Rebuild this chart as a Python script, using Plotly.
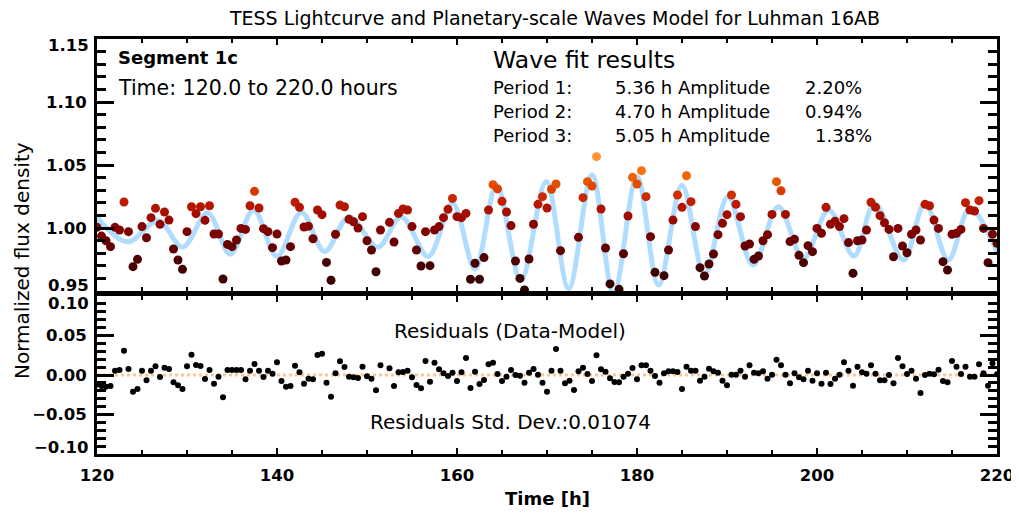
import numpy as np
import plotly.graph_objects as go

# ---------------- data ----------------
time_h = [
    120.0, 120.5, 121.0, 121.5, 122.0, 122.5, 123.0, 123.5, 124.0, 124.5,
    125.0, 125.5, 126.0, 126.5, 127.0, 127.5, 128.0, 128.5, 129.0, 129.5,
    130.0, 130.5, 131.0, 131.5, 132.0, 132.5, 133.0, 133.5, 134.0, 134.5,
    135.0, 135.5, 136.0, 136.5, 137.0, 137.5, 138.0, 138.5, 139.0, 139.5,
    140.0, 140.5, 141.0, 141.5, 142.0, 142.5, 143.0, 143.5, 144.0, 144.5,
    145.0, 145.5, 146.0, 146.5, 147.0, 147.5, 148.0, 148.5, 149.0, 149.5,
    150.0, 150.5, 151.0, 151.5, 152.0, 152.5, 153.0, 153.5, 154.0, 154.5,
    155.0, 155.5, 156.0, 156.5, 157.0, 157.5, 158.0, 158.5, 159.0, 159.5,
    160.0, 160.5, 161.0, 161.5, 162.0, 162.5, 163.0, 163.5, 164.0, 164.5,
    165.0, 165.5, 166.0, 166.5, 167.0, 167.5, 168.0, 168.5, 169.0, 169.5,
    170.0, 170.5, 171.0, 171.5, 172.0, 172.5, 173.0, 173.5, 174.0, 174.5,
    175.0, 175.5, 176.0, 176.5, 177.0, 177.5, 178.0, 178.5, 179.0, 179.5,
    180.0, 180.5, 181.0, 181.5, 182.0, 182.5, 183.0, 183.5, 184.0, 184.5,
    185.0, 185.5, 186.0, 186.5, 187.0, 187.5, 188.0, 188.5, 189.0, 189.5,
    190.0, 190.5, 191.0, 191.5, 192.0, 192.5, 193.0, 193.5, 194.0, 194.5,
    195.0, 195.5, 196.0, 196.5, 197.0, 197.5, 198.0, 198.5, 199.0, 199.5,
    200.0, 200.5, 201.0, 201.5, 202.0, 202.5, 203.0, 203.5, 204.0, 204.5,
    205.0, 205.5, 206.0, 206.5, 207.0, 207.5, 208.0, 208.5, 209.0, 209.5,
    210.0, 210.5, 211.0, 211.5, 212.0, 212.5, 213.0, 213.5, 214.0, 214.5,
    215.0, 215.5, 216.0, 216.5, 217.0, 217.5, 218.0, 218.5, 219.0, 219.5,
    220.0,
]

flux = [
    1.0005, 0.9936, 0.9899, 0.9852, 1.0005, 0.9984, 1.0206, 0.9971, 0.9693, 0.9751,
    1.0011, 0.9923, 1.0082, 1.0156, 1.0029, 1.0127, 1.0063, 0.9833, 0.9746, 0.9672,
    0.9971, 1.0169, 1.0114, 1.0169, 1.0061, 1.0177, 0.9952, 0.9952, 0.9595, 0.9870,
    0.9852, 0.9905, 0.9997, 0.9989, 1.0177, 1.0291, 1.0159, 0.9995, 0.9971, 0.9844,
    0.9952, 0.9738, 0.9746, 0.9852, 1.0204, 1.0164, 1.0008, 1.0013, 0.9915, 1.0143,
    1.0106, 0.9727, 0.9585, 0.9950, 1.0182, 1.0169, 1.0069, 1.0050, 1.0000, 1.0090,
    0.9899, 0.9825, 0.9653, 0.9984, None, 1.0045, 0.9889, 1.0116, 1.0151, 1.0143,
    1.0011, 0.9825, 0.9698, 0.9971, 0.9701, 0.9984, 1.0011, 1.0082, 1.0148, 1.0235,
    1.0090, 1.0082, 1.0116, 0.9593, 0.9720, 0.9593, 0.9765, 1.0143, 1.0344, 1.0310,
    1.0212, 1.0127, 1.0019, 0.9738, 0.9600, 0.9508, 0.9754, 1.0030, 1.0188, 1.0249,
    1.0159, 1.0307, 1.0349, 0.9820, 0.9450, 0.9440, 0.9360, 0.9926, 1.0241, 1.0368,
    1.0333, 1.0566, 1.0151, 0.9841, 0.9556, 0.9400, 0.9513, 0.9796, 1.0095, 1.0402,
    1.0349, 1.0455, 1.0249, 0.9931, 0.9648, 0.9460, 0.9622, 0.9825, 1.0063, 1.0262,
    1.0164, 1.0415, 1.0209, 1.0011, 0.9685, 0.9619, 0.9714, 0.9794, 0.9947, 1.0037,
    1.0106, 1.0262, 1.0188, 1.0090, 0.9857, 0.9873, 0.9751, 0.9778, 0.9899, 0.9947,
    1.0108, 1.0368, 1.0296, 1.0108, 0.9892, 0.9910, 0.9783, 0.9725, 0.9860, 0.9812,
    0.9997, 0.9958, 1.0164, 1.0030, 1.0053, 1.0011, 1.0074, 0.9884, 0.9640, 0.9899,
    0.9905, 0.9984, 1.0204, 1.0164, 1.0098, 1.0042, 0.9989, 0.9772, 0.9997, 0.9857,
    0.9804, 0.9950, 0.9984, 0.9905, 1.0188, 1.0177, 1.0063, 0.9997, 0.9733, 0.9667,
    0.9950, 0.9958, 0.9989, 1.0201, 1.0143, 1.0135, 1.0217, 0.9997, 0.9725, 0.9950,
    0.9878,
]

residuals = [
    -0.0120, -0.0140, -0.0150, -0.0139, 0.0055, 0.0063, 0.0308, 0.0076, -0.0211, -0.0177,
    0.0055, -0.0068, 0.0055, 0.0110, -0.0025, 0.0093, 0.0076, -0.0093, -0.0131, -0.0177,
    0.0110, 0.0257, 0.0127, 0.0114, -0.0051, 0.0063, -0.0110, -0.0021, -0.0283, 0.0063,
    0.0063, 0.0063, 0.0063, -0.0055, 0.0055, 0.0139, 0.0055, -0.0025, 0.0055, 0.0017,
    0.0160, -0.0076, -0.0148, -0.0139, 0.0118, 0.0034, -0.0110, -0.0046, -0.0055, 0.0253,
    0.0270, -0.0097, -0.0274, 0.0021, 0.0173, 0.0101, -0.0021, -0.0030, -0.0038, 0.0105,
    -0.0017, -0.0046, -0.0194, 0.0122, None, 0.0084, -0.0139, 0.0034, 0.0038, 0.0055,
    -0.0030, -0.0127, -0.0169, 0.0177, -0.0084, 0.0156, 0.0072, 0.0021, -0.0013, 0.0030,
    -0.0076, 0.0034, 0.0215, -0.0165, 0.0042, -0.0114, -0.0063, 0.0135, 0.0156, 0.0013,
    -0.0076, -0.0021, 0.0063, 0.0000, -0.0008, -0.0097, 0.0030, 0.0076, 0.0004, -0.0097,
    -0.0211, 0.0055, 0.0329, 0.0055, -0.0105, -0.0072, -0.0190, 0.0046, 0.0093, 0.0013,
    -0.0076, 0.0249, 0.0072, 0.0042, -0.0042, -0.0089, -0.0093, -0.0021, 0.0017, 0.0089,
    -0.0055, 0.0122, 0.0122, 0.0055, -0.0013, -0.0097, 0.0021, 0.0046, 0.0046, 0.0038,
    -0.0177, 0.0105, 0.0055, 0.0055, -0.0072, -0.0021, 0.0080, 0.0046, 0.0030, -0.0072,
    -0.0131, 0.0004, 0.0004, 0.0055, -0.0021, 0.0122, 0.0030, 0.0021, 0.0046, -0.0046,
    0.0004, 0.0194, 0.0122, 0.0004, -0.0105, 0.0021, -0.0030, -0.0055, 0.0055, -0.0072,
    0.0021, -0.0110, 0.0030, -0.0114, -0.0046, 0.0004, 0.0160, 0.0055, -0.0135, 0.0105,
    0.0034, 0.0017, 0.0122, 0.0017, -0.0068, -0.0068, 0.0000, -0.0105, 0.0215, 0.0110,
    0.0013, 0.0055, -0.0046, -0.0228, 0.0000, 0.0017, 0.0008, 0.0068, -0.0076, -0.0093,
    0.0177, 0.0105, 0.0013, 0.0105, -0.0021, -0.0021, 0.0135, 0.0021, -0.0135, 0.0150,
    0.0010,
]

# wave model: turning points
model_time = [120.0, 123.4, 126.8, 129.5, 132.3, 134.8, 137.4, 140.0, 142.7, 145.3,
              148.0, 151.2, 153.8, 156.8, 159.5, 162.0, 164.4, 167.1, 169.9, 172.4,
              175.0, 177.4, 180.0, 182.4, 185.0, 187.5, 190.1, 192.9, 195.7, 198.5,
              201.3, 204.1, 206.4, 209.6, 212.0, 214.6, 217.0, 220.0]
model_flux = [1.0085, 0.9890, 1.0060, 0.9848, 1.0118, 0.9792, 1.0143, 0.9775, 1.0125, 0.9814,
              1.0090, 0.9848, 1.0090, 0.9775, 1.0196, 0.9675, 1.0340, 0.9585, 1.0368, 0.9520,
              1.0420, 0.9480, 1.0407, 0.9548, 1.0340, 0.9627, 1.0249, 0.9706, 1.0169, 0.9759,
              1.0143, 0.9778, 1.0196, 0.9746, 1.0196, 0.9746, 1.0156, 0.9812]

flux_ticks = [0.95, 1.00, 1.05, 1.10, 1.15]
flux_ticklabels = ["0.95", "1.00", "1.05", "1.10", "1.15"]
res_ticks = [-0.10, -0.05, 0.00, 0.05, 0.10]
res_ticklabels = ["\u22120.10", "\u22120.05", "0.00", "0.05", "0.10"]

title_text = "TESS Lightcurve and Planetary-scale Waves Model for Luhman 16AB"
segment_text = "Segment 1c"
range_text = "Time: 120.0 to 220.0 hours"
fit_header = "Wave fit results"
period_labels = ["Period 1:", "Period 2:", "Period 3:"]
period_values = ["5.36 h Amplitude", "4.70 h Amplitude", "5.05 h Amplitude"]
amp_values = ["2.20%", "0.94%", "1.38%"]
resid_label = "Residuals (Data-Model)"
std_label = "Residuals Std. Dev.:0.01074"
x_title = "Time [h]"
y_title = "Normalized flux density"

# ---------------- figure ----------------
FONT = "DejaVu Sans"
OFF = 8                      # default page margin around the plot div
PAGE_W, PAGE_H = 1019, 515
W, H = PAGE_W - OFF, PAGE_H - OFF
# plot frame in page pixels
X0, X1, Y0, Y1 = 97, 997, 39, 454
L, R, T, B = X0 - OFF, W - (X1 - OFF), Y0 - OFF, H - (Y1 - OFF)
PW, PH = X1 - X0, Y1 - Y0


def px_x(x):
    return (x - X0) / PW


def px_y(y):
    return (Y1 - y) / PH


heat = [
    [0.000, "#2e0000"], [0.182, "#470000"], [0.364, "#6c0000"], [0.455, "#840400"],
    [0.545, "#a00c00"], [0.636, "#be1a00"], [0.727, "#da3c00"], [0.818, "#f06000"],
    [0.909, "#ff8018"], [1.000, "#ffa040"],
]

flux_arr = np.array([np.nan if v is None else v for v in flux], dtype=float)
res_arr = np.array([np.nan if v is None else v for v in residuals], dtype=float)
ok = ~np.isnan(flux_arr)
okr = ~np.isnan(res_arr)
t_arr = np.array(time_h)

fig = go.Figure()
fig.add_trace(go.Scatter(
    x=model_time, y=model_flux, mode="lines", xaxis="x", yaxis="y",
    line=dict(color="#b0ddff", width=5, shape="spline", smoothing=1.0),
    hoverinfo="skip", showlegend=False))
fig.add_trace(go.Scatter(
    x=t_arr[ok], y=flux_arr[ok], mode="markers", xaxis="x", yaxis="y",
    marker=dict(size=9, color=flux_arr[ok], colorscale=heat, cmin=0.95, cmax=1.06,
                line=dict(width=0)),
    showlegend=False))
fig.add_trace(go.Scatter(
    x=t_arr[okr], y=res_arr[okr], mode="markers", xaxis="x2", yaxis="y2",
    marker=dict(size=6, color="black", line=dict(width=0)),
    showlegend=False))
fig.add_shape(type="line", xref="x2 domain", x0=0, x1=1, yref="y2", y0=0, y1=0,
              layer="below", line=dict(color="#ffc690", width=3, dash="dot"))

TICKFONT = dict(family=FONT, size=16.5, color="black", weight="bold")
axis_common = dict(
    showline=True, linecolor="black", linewidth=3, mirror="allticks",
    ticks="inside", tickcolor="black", showgrid=False, zeroline=False,
    tickfont=TICKFONT,
)

top_dom = [px_y(291), 1.0]
bot_dom = [0.0, px_y(296)]

fig.update_layout(
    width=W, height=H, plot_bgcolor="white", paper_bgcolor="white",
    margin=dict(l=L, r=R, t=T, b=B, autoexpand=False),
    xaxis=dict(axis_common, domain=[0, 1], anchor="y", range=[120, 220],
               dtick=20, tick0=120, ticklen=6, tickwidth=2,
               minor=dict(dtick=5, ticklen=4, tickwidth=2, ticks="inside", tickcolor="black"),
               showticklabels=False),
    yaxis=dict(axis_common, domain=top_dom, anchor="x", range=[0.95, 1.15],
               tickmode="array", tickvals=flux_ticks,
               ticktext=[""] + flux_ticklabels[1:4] + [""],
               ticklen=17, tickwidth=3, ticklabelstandoff=4,
               minor=dict(dtick=0.01, tick0=0.95, ticklen=9, tickwidth=3, ticks="inside",
                          tickcolor="black")),
    xaxis2=dict(axis_common, domain=[0, 1], anchor="y2", range=[120, 220],
                dtick=20, tick0=120, ticklen=6, tickwidth=2, ticklabelstandoff=4,
                minor=dict(dtick=5, ticklen=4, tickwidth=2, ticks="inside", tickcolor="black")),
    yaxis2=dict(axis_common, domain=bot_dom, anchor="x2", range=[-0.1, 0.1],
                tickmode="array", tickvals=res_ticks,
                ticktext=[""] + res_ticklabels[1:4] + [""],
                ticklen=17, tickwidth=3, ticklabelstandoff=4,
                minor=dict(dtick=0.01, tick0=-0.1, ticklen=9, tickwidth=3, ticks="inside",
                           tickcolor="black")),
    title=dict(text=title_text, x=px_x(555), xref="paper", xanchor="center",
               y=1 - (18 - OFF) / H, yref="container", yanchor="middle",
               font=dict(family=FONT, size=19, color="black")),
    showlegend=False,
)

ann = []


def add_text(text, x, y, size, xanchor="left", bold=False, angle=0):
    ann.append(dict(text=text, x=px_x(x), y=px_y(y), xref="paper", yref="paper",
                    xanchor=xanchor, yanchor="middle", showarrow=False, textangle=angle,
                    font=dict(family=FONT, size=size, color="black",
                              weight="bold" if bold else "normal")))


# edge tick labels, nudged inward like the reference
add_text(flux_ticklabels[4], 91, 46, 16.5, xanchor="right", bold=True)
add_text(flux_ticklabels[0], 91, 285, 16.5, xanchor="right", bold=True)
add_text(res_ticklabels[4], 91, 303, 16.5, xanchor="right", bold=True)
add_text(res_ticklabels[0], 91, 447, 16.5, xanchor="right", bold=True)

add_text(segment_text, 116, 57, 18, bold=True)
add_text(range_text, 116, 88, 20.5)
add_text(fit_header, 491, 60, 23.5)
rows_y = [87, 111, 135]
for i in range(3):
    add_text(period_labels[i], 491, rows_y[i], 18)
    add_text(period_values[i], 613, rows_y[i], 18)
add_text(amp_values[0], 803, rows_y[0], 18)
add_text(amp_values[1], 803, rows_y[1], 18)
add_text(amp_values[2], 813, rows_y[2], 18)
add_text(resid_label, 510, 331, 20, xanchor="center")
add_text(std_label, 510, 422, 20, xanchor="center")
add_text(x_title, 547, 498, 18, xanchor="center", bold=True)
add_text(y_title, 22, 261, 20, xanchor="center", angle=-90)
fig.update_layout(annotations=ann)

fig.write_html("out.html", config={"displayModeBar": False})
